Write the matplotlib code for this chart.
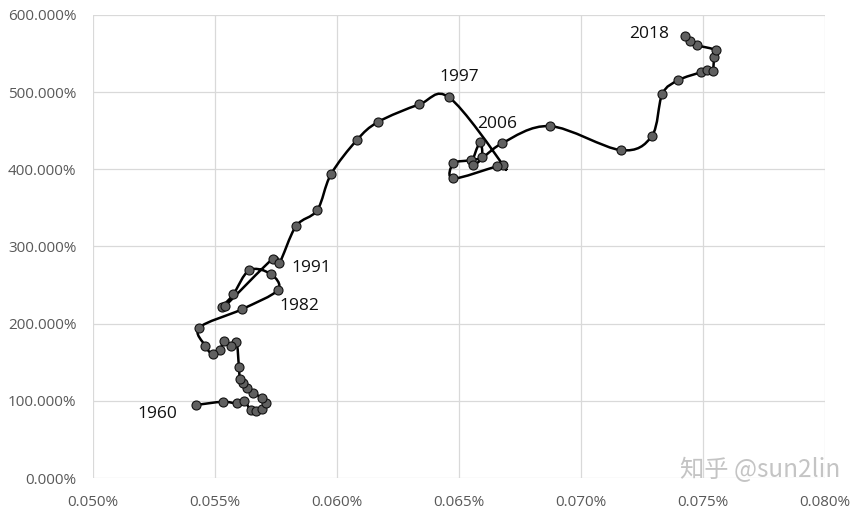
import matplotlib.pyplot as plt
import matplotlib.ticker as ticker
from matplotlib.path import Path
from matplotlib.patches import PathPatch
import numpy as np

plt.rcParams['font.family'] = ['Open Sans', 'DejaVu Sans']

# x in percent, y in percent, in path order 1960 -> 2018
x_vals = [0.05422, 0.05531, 0.05589, 0.05619, 0.05646, 0.05668, 0.05693, 0.05707,
          0.05693, 0.05657, 0.05632, 0.05613, 0.05602, 0.05598, 0.05588, 0.05564,
          0.05538, 0.05520, 0.05490, 0.05461, 0.05436, 0.05609, 0.05757, 0.05729,
          0.05641, 0.05575, 0.05527, 0.05541, 0.05736, 0.05763, 0.05832, 0.05919,
          0.05975, 0.06081, 0.06169, 0.06337, 0.06460, 0.06681, 0.06654, 0.06477,
          0.06477, 0.06548, 0.06593, 0.06586, 0.06559, 0.06675, 0.06873, 0.07163,
          0.07290, 0.07333, 0.07399, 0.07492, 0.07516, 0.07539, 0.07546, 0.07553,
          0.07475, 0.07447, 0.07426]
y_vals = [94.6, 98.8, 96.8, 100.1, 88.1, 87.4, 90.0, 97.2,
          103.2, 110.5, 116.6, 122.7, 128.9, 143.8, 176.2, 171.0,
          177.8, 165.8, 160.6, 171.0, 194.9, 218.5, 243.5, 264.2,
          269.4, 238.0, 221.1, 222.8, 283.7, 278.1, 326.4, 347.2,
          393.4, 437.8, 461.5, 484.1, 493.1, 405.1, 403.8, 388.2,
          407.6, 411.9, 416.2, 435.6, 405.4, 433.5, 456.0, 424.9,
          443.0, 497.4, 515.5, 525.9, 529.1, 527.2, 546.0, 554.4,
          560.9, 566.1, 572.2]

year_labels = ['1960', '1982', '1991', '1997', '2006', '2018']
label_x = [0.05262, 0.05844, 0.05893, 0.06500, 0.06656, 0.07279]
label_y = [82.9, 222.8, 272.0, 519.4, 458.5, 575.1]

fig = plt.figure(figsize=(8.65, 5.13), dpi=100)
ax = fig.add_axes([93 / 865, 1 - 478 / 513, 732 / 865, 463 / 513])

# smooth line like Excel (Catmull-Rom through the points)
pts = np.column_stack([x_vals, y_vals])
p = np.vstack([pts[0], pts, pts[-1]])
verts = [pts[0]]
codes = [Path.MOVETO]
for i in range(1, len(p) - 2):
    p0, p1, p2, p3 = p[i - 1], p[i], p[i + 1], p[i + 2]
    verts += [p1 + (p2 - p0) / 6, p2 - (p3 - p1) / 6, p2]
    codes += [Path.CURVE4] * 3
ax.add_patch(PathPatch(Path(verts, codes), facecolor='none', edgecolor='black',
                       lw=1.8, zorder=2))
ax.plot(x_vals, y_vals, 'o', ms=6.5, mfc='#606060', mec='#111111', mew=0.8, zorder=3)

for t, lx, ly in zip(year_labels, label_x, label_y):
    ax.text(lx, ly, t, fontsize=12.5, color='#111111', ha='center', va='center')

ax.set_xlim(0.050, 0.080)
ax.set_ylim(0, 600)
ax.xaxis.set_major_locator(ticker.MultipleLocator(0.005))
ax.yaxis.set_major_locator(ticker.MultipleLocator(100))
ax.xaxis.set_major_formatter(ticker.FuncFormatter(lambda v, _: f'{v:.3f}%'))
ax.yaxis.set_major_formatter(ticker.FuncFormatter(lambda v, _: f'{v:.3f}%'))
ax.grid(True, color='#d9d9d9', lw=0.9)
ax.set_axisbelow(True)
for s in ax.spines.values():
    s.set_visible(False)
ax.tick_params(length=0, labelsize=11, labelcolor='#595959')
ax.tick_params(axis='y', pad=12)
ax.tick_params(axis='x', pad=12)

fig.text(0.879, 0.083, '知乎 @sun2lin', fontsize=17.5, color='#c4c4c4',
         family=['Noto Sans CJK SC', 'DejaVu Sans'], ha='center', va='center')

fig.savefig('out.png', dpi=100)
